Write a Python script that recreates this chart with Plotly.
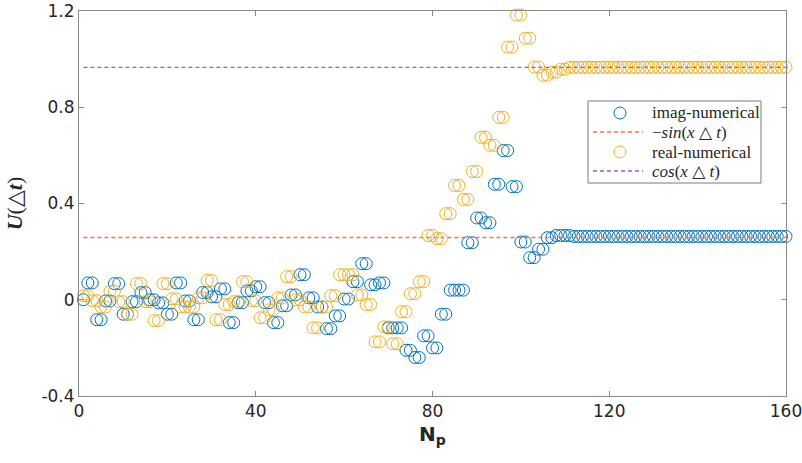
import plotly.graph_objects as go

# ---------------- data ----------------
n_p = list(range(1, 161))

imag_numerical = [
    0.0,
    0.07, 0.07, -0.083, -0.083, -0.005, -0.005, 0.067, 0.067, -0.06, -0.06,
    -0.008, -0.008, 0.03, 0.03, 0.0, 0.0, -0.013, -0.013, -0.06, -0.06,
    0.07, 0.07, -0.005, -0.005, -0.083, -0.083, 0.03, 0.03, 0.012, 0.012,
    0.045, 0.045, -0.095, -0.095, -0.012, -0.012, 0.037, 0.037, 0.054, 0.054,
    -0.012, -0.012, -0.095, -0.095, -0.025, -0.025, 0.02, 0.02, 0.104, 0.104,
    0.008, 0.008, -0.03, -0.03, -0.12, -0.12, -0.067, -0.067, 0.003, 0.003,
    0.075, 0.075, 0.15, 0.15, 0.062, 0.062, 0.07, 0.07, -0.117, -0.117,
    -0.117, -0.117, -0.21, -0.21, -0.24, -0.24, -0.15, -0.15, -0.2, -0.2,
    -0.06, -0.06, 0.04, 0.04, 0.04, 0.04, 0.237, 0.237, 0.34, 0.34,
    0.32, 0.32, 0.48, 0.48, 0.62, 0.62, 0.47, 0.47, 0.24, 0.24,
    0.175, 0.175, 0.21, 0.21, 0.258, 0.258, 0.267, 0.267, 0.267, 0.267,
    0.263, 0.263, 0.263, 0.263, 0.263, 0.263, 0.263, 0.263, 0.263, 0.263,
    0.263, 0.263, 0.263, 0.263, 0.263, 0.263, 0.263, 0.263, 0.263, 0.263,
    0.263, 0.263, 0.263, 0.263, 0.263, 0.263, 0.263, 0.263, 0.263, 0.263,
    0.263, 0.263, 0.263, 0.263, 0.263, 0.263, 0.263, 0.263, 0.263, 0.263,
    0.263, 0.263, 0.263, 0.263, 0.263, 0.263, 0.263, 0.263, 0.263,
]

real_numerical = [
    0.017, 0.017, -0.004, -0.004, -0.03, -0.03, 0.035, 0.035, -0.008, -0.008,
    -0.06, -0.06, 0.067, 0.067, -0.008, -0.008, -0.087, -0.087, 0.067, 0.067,
    0.004, 0.004, -0.03, -0.03, -0.03, -0.03, 0.008, 0.008, 0.08, 0.08,
    -0.083, -0.083, -0.02, -0.02, -0.008, -0.008, 0.075, 0.075, -0.004, -0.004,
    -0.075, -0.075, -0.042, -0.042, 0.008, 0.008, 0.096, 0.096, 0.0, 0.0,
    -0.03, -0.03, -0.117, -0.117, -0.03, -0.03, 0.017, 0.017, 0.104, 0.104,
    0.104, 0.104, 0.02, 0.02, -0.02, -0.02, -0.175, -0.175, -0.113, -0.113,
    -0.183, -0.183, -0.05, -0.05, 0.025, 0.025, 0.075, 0.075, 0.267, 0.267,
    0.254, 0.254, 0.358, 0.358, 0.475, 0.475, 0.417, 0.417, 0.533, 0.533,
    0.675, 0.675, 0.642, 0.642, 0.758, 0.758, 1.05, 1.05, 1.183, 1.183,
    1.087, 1.087, 0.967, 0.967, 0.933, 0.933, 0.946, 0.946, 0.958, 0.958,
    0.966, 0.966, 0.966, 0.966, 0.966, 0.966, 0.966, 0.966, 0.966, 0.966,
    0.966, 0.966, 0.966, 0.966, 0.966, 0.966, 0.966, 0.966, 0.966, 0.966,
    0.966, 0.966, 0.966, 0.966, 0.966, 0.966, 0.966, 0.966, 0.966, 0.966,
    0.966, 0.966, 0.966, 0.966, 0.966, 0.966, 0.966, 0.966, 0.966, 0.966,
    0.966, 0.966, 0.966, 0.966, 0.966, 0.966, 0.966, 0.966, 0.966, 0.966,
]

line_x = [1, 160]
neg_sin = [0.2588, 0.2588]   # -sin(x Δt)
cos_val = [0.9659, 0.9659]   # cos(x Δt)

x_ticks = [0, 40, 80, 120, 160]
y_ticks = [-0.4, 0, 0.4, 0.8, 1.2]
y_tick_text = ["-0.4", "0", "0.4", "0.8", "1.2"]

legend_labels = [
    "imag-numerical",
    "\u2212<i>sin</i>(<i>x</i> \u25b3 <i>t</i>)",
    "real-numerical",
    "<i>cos</i>(<i>x</i> \u25b3 <i>t</i>)",
]

# ---------------- styling ----------------
BLUE = "#0072BD"
ORANGE = "#EDB120"
RED = "#E8794E"
PURPLE = "#A35BB8"
AX = "#8a8a8a"
TXT = "#262626"
SERIF = "Liberation Serif, DejaVu Serif, serif"

W, H = 802, 463
ML, MR, MT, MB = 79, 16, 11, 67
PW, PH = W - ML - MR, H - MT - MB


def px_x(px):
    return (px - ML) / PW


def px_y(py):
    return (H - MB - py) / PH


fig = go.Figure()
fig.add_trace(go.Scatter(
    x=n_p, y=imag_numerical, mode="markers", name=legend_labels[0],
    marker=dict(symbol="circle-open", size=12, color=BLUE, line=dict(width=1, color=BLUE)),
    cliponaxis=False,
))
fig.add_trace(go.Scatter(
    x=line_x, y=neg_sin, mode="lines", name=legend_labels[1],
    line=dict(color=RED, width=1.3, dash="4px,3px"),
))
fig.add_trace(go.Scatter(
    x=n_p, y=real_numerical, mode="markers", name=legend_labels[2],
    marker=dict(symbol="circle-open", size=12, color=ORANGE, line=dict(width=1, color=ORANGE)),
    cliponaxis=False,
))
fig.add_trace(go.Scatter(
    x=line_x, y=cos_val, mode="lines", name=legend_labels[3],
    line=dict(color=PURPLE, width=1.3, dash="4px,3px"),
))

axis_common = dict(
    showline=True, linecolor=AX, linewidth=1, mirror="ticks",
    ticks="inside", ticklen=5, tickcolor=AX, tickwidth=1,
    showgrid=False, zeroline=False, automargin=False,
    ticklabeloverflow="allow",
    tickfont=dict(family="DejaVu Sans", size=17, color=TXT),
)

fig.update_xaxes(
    range=[0, 160], tickvals=x_ticks, ticktext=[str(v) for v in x_ticks],
    title=dict(text="<b>N<sub>p</sub></b>", font=dict(family="DejaVu Sans", size=20, color=TXT), standoff=6),
    **axis_common,
)
fig.update_yaxes(
    range=[-0.4, 1.2], tickvals=y_ticks, ticktext=y_tick_text,
    title=dict(text="<i><b>U</b></i>(\u25b3<i><b>t</b></i>)", font=dict(family=SERIF, size=22, color=TXT), standoff=12),
    **axis_common,
)

# ---- legend box drawn by hand (MATLAB-style compact legend) ----
shapes = [dict(type="rect", xref="paper", yref="paper",
               x0=px_x(588), x1=px_x(761), y0=px_y(183), y1=px_y(101),
               line=dict(color="#7a7a7a", width=1), fillcolor="white", layer="above")]
annotations = []
rows_y = [113, 132, 152, 171]
glyphs = [("marker", BLUE), ("line", RED), ("marker", ORANGE), ("line", PURPLE)]
for (kind, col), ry, lab in zip(glyphs, rows_y, legend_labels):
    if kind == "marker":
        r = 6
        shapes.append(dict(type="circle", xref="paper", yref="paper",
                           x0=px_x(620 - r), x1=px_x(620 + r), y0=px_y(ry + r), y1=px_y(ry - r),
                           line=dict(color=col, width=1), layer="above"))
    else:
        shapes.append(dict(type="line", xref="paper", yref="paper",
                           x0=px_x(593), x1=px_x(643), y0=px_y(ry), y1=px_y(ry),
                           line=dict(color=col, width=1.3, dash="4px,3px"), layer="above"))
    annotations.append(dict(xref="paper", yref="paper", x=px_x(650), y=px_y(ry),
                            xanchor="left", yanchor="middle", showarrow=False, text=lab,
                            font=dict(family=SERIF, size=17, color=TXT)))

fig.update_layout(
    width=W, height=H,
    margin=dict(l=ML, r=MR, t=MT, b=MB),
    paper_bgcolor="white", plot_bgcolor="white",
    showlegend=False,
    shapes=shapes, annotations=annotations,
)

fig.write_html("out.html")
